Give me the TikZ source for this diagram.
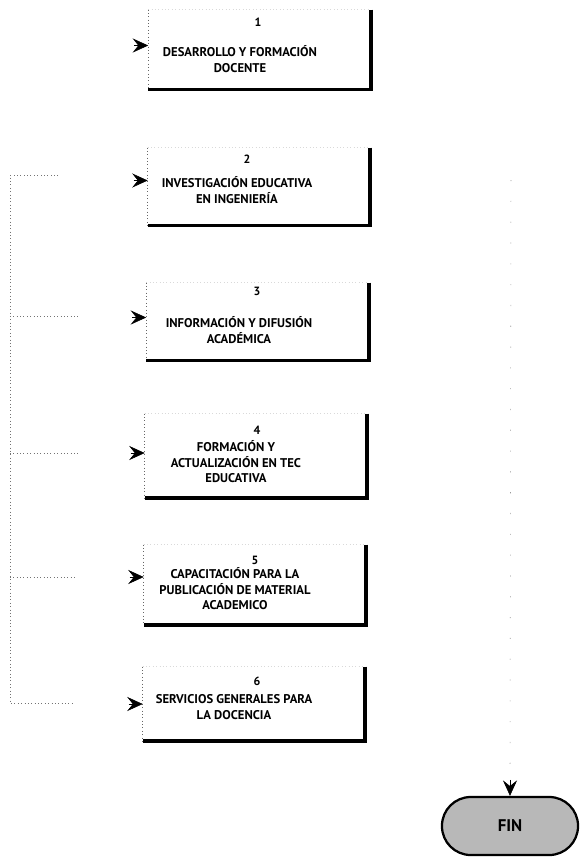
\documentclass[tikz,border=0pt]{standalone}
\usepackage{fontspec}
\setmainfont{PT Sans}
\usetikzlibrary{arrows.meta, calc}

\begin{document}
\begin{tikzpicture}[x=0.025cm, y=-0.025cm,
    box/.style = {draw=none, minimum width=5.55cm, inner sep=0pt},
    shadowedge/.style = {draw=black, line width=2.6pt},
    faintedge/.style = {draw=black!60, dotted, thin},
    topedge/.style = {draw=black!15, dotted, thin},
    numtext/.style = {font=\bfseries\fontsize{8.5}{9}\selectfont, inner sep=0pt},
    boxtext/.style = {font=\bfseries\fontsize{9}{11}\selectfont, align=center, inner sep=0pt},
    bus/.style = {draw=black!55, dotted, thin},
    sparse/.style = {draw=black!40, dash pattern=on 0.8pt off 14pt},
    feed/.style = {-{Stealth[length=11pt, width=10pt, inset=4pt]}, thin},
    terminal/.style = {draw=black, line width=1.6pt, rounded corners=0.72cm, fill=black!28, minimum width=3.4cm, minimum height=1.45cm, font=\bfseries\large}
]
\useasboundingbox (0,0) rectangle (580,857);

% Boxes
\node (b1) [box, minimum height=1.98cm] at (259.5, 49.5) {};
\node (b2) [box, minimum height=1.93cm] at (259, 186.5) {};
\node (b3) [box, minimum height=1.93cm] at (257.5, 321.5) {};
\node (b4) [box, minimum height=2.1cm] at (256, 456) {};
\node (b5) [box, minimum height=2cm] at (255, 585) {};
\node (b6) [box, minimum height=1.85cm] at (254, 704) {};

% Box edges
\draw [topedge] (b1.north west) -- (b1.north east);
\draw [topedge] (b2.north west) -- (b2.north east);
\draw [topedge] (b3.north west) -- (b3.north east);
\draw [topedge] (b4.north west) -- (b4.north east);
\draw [topedge] (b5.north west) -- (b5.north east);
\draw [topedge] (b6.north west) -- (b6.north east);
\draw [faintedge] (b1.north west) -- (b1.south west);
\draw [faintedge] (b2.north west) -- (b2.south west);
\draw [faintedge] (b3.north west) -- (b3.south west);
\draw [faintedge] (b4.north west) -- (b4.south west);
\draw [faintedge] (b5.north west) -- (b5.south west);
\draw [faintedge] (b6.north west) -- (b6.south west);
\draw [shadowedge] (b1.north east) -- (b1.south east) -- (b1.south west);
\draw [shadowedge] (b2.north east) -- (b2.south east) -- (b2.south west);
\draw [shadowedge] (b3.north east) -- (b3.south east) -- (b3.south west);
\draw [shadowedge] (b4.north east) -- (b4.south east) -- (b4.south west);
\draw [shadowedge] (b5.north east) -- (b5.south east) -- (b5.south west);
\draw [shadowedge] (b6.north east) -- (b6.south east) -- (b6.south west);

% Numbers
\node (n1) [numtext] at (258, 22) {1};
\node (n2) [numtext] at (247, 159) {2};
\node (n3) [numtext] at (257, 291) {3};
\node (n4) [numtext] at (257, 430) {4};
\node (n5) [numtext] at (255, 560) {5};
\node (n6) [numtext] at (257, 681) {6};

% Box texts
\node (t1) [boxtext] at (240, 59) {DESARROLLO Y FORMACIÓN\\DOCENTE};
\node (t2) [boxtext] at (237, 190) {INVESTIGACIÓN EDUCATIVA\\EN INGENIERÍA};
\node (t3) [boxtext] at (239, 330) {INFORMACIÓN Y DIFUSIÓN\\ACADÉMICA};
\node (t4) [boxtext] at (236, 462) {FORMACIÓN Y\\ACTUALIZACIÓN EN TEC\\EDUCATIVA};
\node (t5) [boxtext] at (235, 589) {CAPACITACIÓN PARA LA\\PUBLICACIÓN DE MATERIAL\\ACADEMICO};
\node (t6) [boxtext] at (234, 707) {SERVICIOS GENERALES PARA\\LA DOCENCIA};

% End
\node (fin) [terminal] at (510, 826) {FIN};

% Left bus
\coordinate (L2) at (10, 175);
\coordinate (L3) at (10, 316);
\coordinate (L4) at (10, 453);
\coordinate (L5) at (10, 577);
\coordinate (L6) at (10, 703);
\coordinate (s2) at (58, 175);
\coordinate (s3) at (78, 316);
\coordinate (s4) at (80, 453);
\coordinate (s5) at (75, 577);
\coordinate (s6) at (75, 703);
\draw [bus] (s2) -- (L2) -- (L6) -- (s6);
\draw [bus] (L3) -- (s3);
\draw [bus] (L4) -- (s4);
\draw [bus] (L5) -- (s5);

% Arrows into boxes
\draw [feed] ($(b1.west)+(-14,-4)$) -- ($(b1.west)+(0,-4)$);
\draw [feed] ($(b2.west)+(-14,-6)$) -- ($(b2.west)+(0,-6)$);
\draw [feed] ($(b3.west)+(-14,-4)$) -- ($(b3.west)+(0,-4)$);
\draw [feed] ($(b4.west)+(-14,-3)$) -- ($(b4.west)+(0,-3)$);
\draw [feed] ($(b5.west)+(-14,-8)$) -- ($(b5.west)+(0,-8)$);
\draw [feed] ($(b6.west)+(-14,0)$) -- (b6.west);

% Right line to end
\coordinate (R0) at (511, 180);
\draw [sparse] (R0) -- ($(fin.north)+(0,-16)$);
\draw [feed] ($(fin.north)+(0,-16)$) -- (fin.north);

\end{tikzpicture}
\end{document}
